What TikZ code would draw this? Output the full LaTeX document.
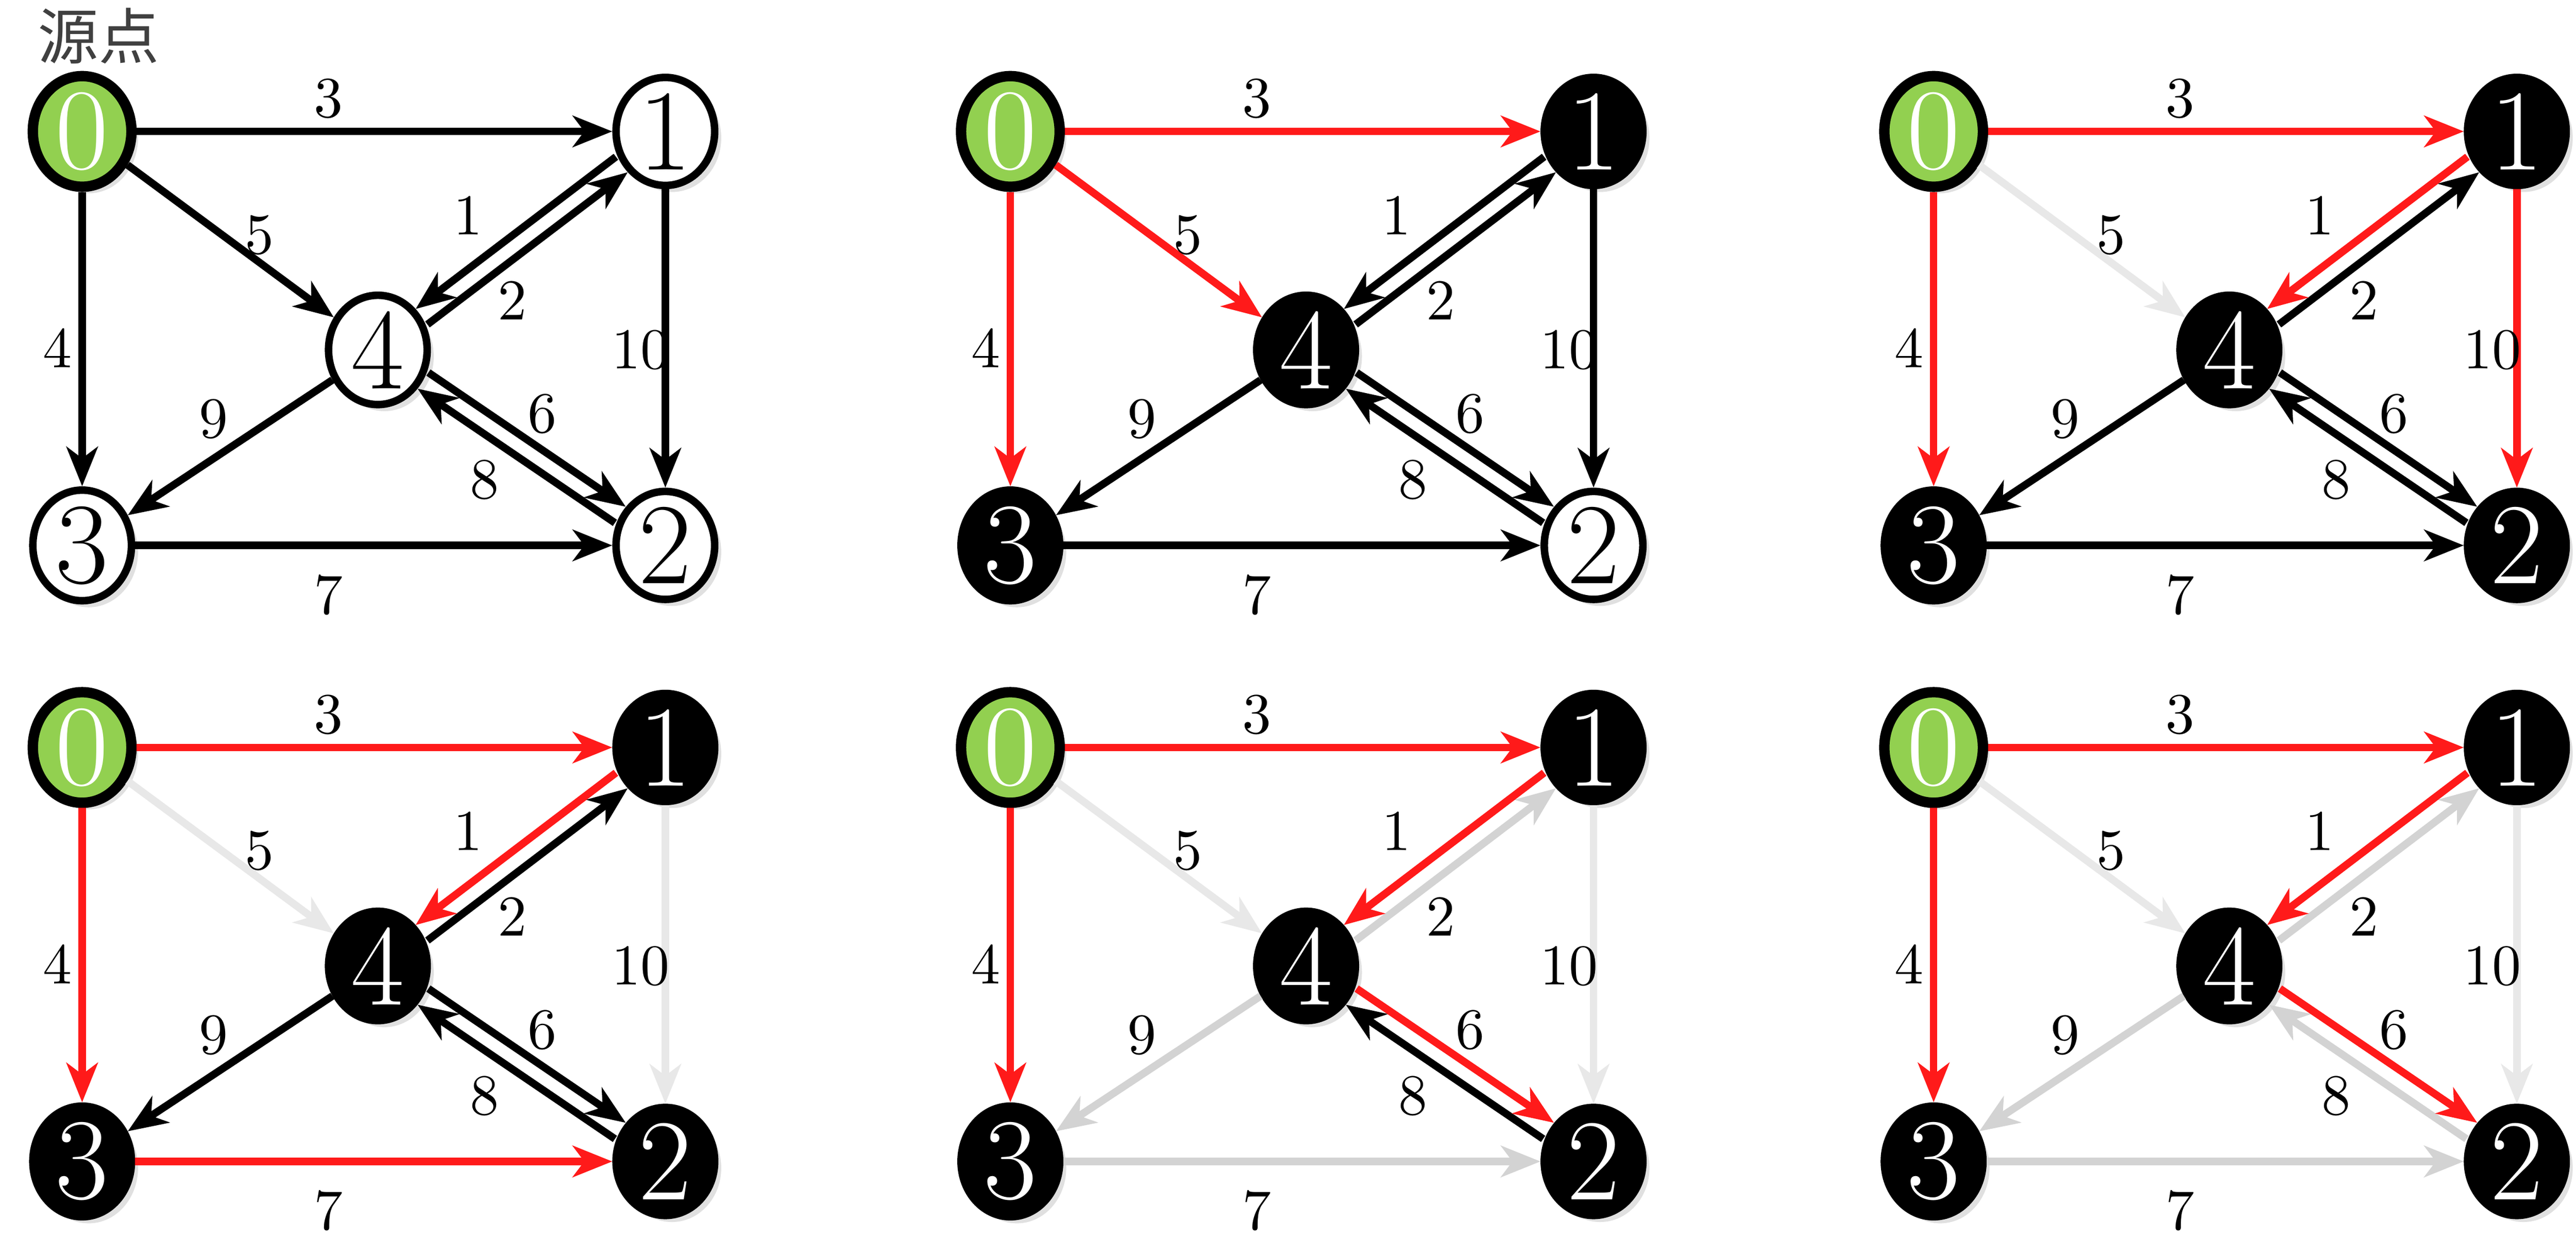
\documentclass[tikz,border=0pt]{standalone}
\usepackage{fontspec}
\newfontfamily\cjk{Noto Sans CJK SC}
\usetikzlibrary{arrows.meta,shapes.geometric,shadows}
\definecolor{gr0}{HTML}{92D050}
\definecolor{rd}{HTML}{FF1A1A}
\definecolor{ga}{HTML}{E8E8E8}
\definecolor{gb}{HTML}{D3D3D3}
\tikzset{
 vtx/.style={ellipse,draw=black,line width=1.3pt,minimum width=0.6cm,minimum height=0.62cm,inner sep=0pt,
   font=\fontsize{20}{20}\selectfont,drop shadow={shadow xshift=0.04cm,shadow yshift=-0.04cm,fill=black!12,opacity=1}},
 wv/.style={vtx,fill=white,text=black},
 bv/.style={vtx,fill=black,text=white},
 gv/.style={vtx,fill=gr0,text=white,line width=1.8pt},
 edge/.style={line width=1.3pt,-{Stealth[length=0.24cm,width=0.19cm,inset=0.07cm]}},
 lbl/.style={font=\fontsize{10}{10}\selectfont,text=black},
 e01/.style={black},e03/.style={black},e04/.style={black},e14/.style={black},e41/.style={black},
 e12/.style={black},e43/.style={black},e42/.style={black},e24/.style={black},e32/.style={black},
 v1/.style={bv},v2/.style={bv},v3/.style={bv},v4/.style={bv}
}
\newcommand\drawpanel[3]{%
\begin{scope}[shift={(#1,#2)}]
\node[gv] (#3n0) at (50,80) {0};
\node[v1] (#3n1) at (405,80) {1};
\node[v4] (#3n4) at (230,213) {4};
\node[v3] (#3n3) at (50,332) {3};
\node[v2] (#3n2) at (405,332) {2};
\draw[edge,e04] (#3n0) -- (#3n4);
\draw[edge,e12] (#3n1) -- (#3n2);
\draw[edge,e43] (#3n4) -- (#3n3);
\draw[edge,e32] (#3n3) -- (#3n2);
\draw[edge,e41,transform canvas={shift={(0.036cm,-0.047cm)}}] (#3n4) -- (#3n1);
\draw[edge,e14,transform canvas={shift={(-0.036cm,0.047cm)}}] (#3n1) -- (#3n4);
\draw[edge,e24,transform canvas={shift={(-0.033cm,-0.049cm)}}] (#3n2) -- (#3n4);
\draw[edge,e42,transform canvas={shift={(0.033cm,0.049cm)}}] (#3n4) -- (#3n2);
\draw[edge,e01] (#3n0) -- (#3n1);
\draw[edge,e03] (#3n0) -- (#3n3);
\node[lbl] (#3l3) at (200,60) {3};
\node[lbl] (#3l5) at (158,143) {5};
\node[lbl] (#3l4) at (35,212) {4};
\node[lbl] (#3l1) at (285,131) {1};
\node[lbl] (#3l2) at (312,183) {2};
\node[lbl] (#3l10) at (390,213) {10};
\node[lbl] (#3l9) at (130,255) {9};
\node[lbl] (#3l6) at (330,252) {6};
\node[lbl] (#3l8) at (295,292) {8};
\node[lbl] (#3l7) at (200,362) {7};
\end{scope}}
\begin{document}
\begin{tikzpicture}[x=0.01cm,y=-0.01cm]
\useasboundingbox (0,0) rectangle (1568,754);
\node[font=\cjk\fontsize{10.5}{10.5}\selectfont,text=black!75] (title) at (60,22) {源点};
\begin{scope}[v1/.style={wv},v2/.style={wv},v3/.style={wv},v4/.style={wv}]
\drawpanel{0}{0}{a}
\end{scope}
\begin{scope}[v2/.style={wv},e01/.style={rd},e04/.style={rd},e03/.style={rd}]
\drawpanel{565}{0}{b}
\end{scope}
\begin{scope}[e01/.style={rd},e03/.style={rd},e14/.style={rd},e12/.style={rd},e04/.style={ga}]
\drawpanel{1127}{0}{c}
\end{scope}
\begin{scope}[e01/.style={rd},e03/.style={rd},e14/.style={rd},e32/.style={rd},e04/.style={ga},e12/.style={ga}]
\drawpanel{0}{375}{d}
\end{scope}
\begin{scope}[e01/.style={rd},e03/.style={rd},e14/.style={rd},e42/.style={rd},e04/.style={ga},e12/.style={ga},e41/.style={gb},e43/.style={gb},e32/.style={gb}]
\drawpanel{565}{375}{e}
\end{scope}
\begin{scope}[e01/.style={rd},e03/.style={rd},e14/.style={rd},e42/.style={rd},e04/.style={ga},e12/.style={ga},e41/.style={gb},e43/.style={gb},e32/.style={gb},e24/.style={gb}]
\drawpanel{1127}{375}{f}
\end{scope}
\end{tikzpicture}
\end{document}
